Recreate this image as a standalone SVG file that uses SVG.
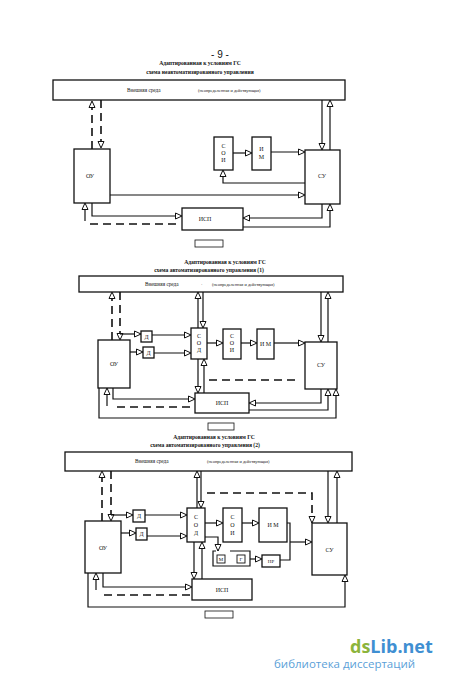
<svg xmlns="http://www.w3.org/2000/svg" width="450" height="684" viewBox="0 0 450 684">
<defs>
<marker id="ar" markerUnits="userSpaceOnUse" markerWidth="8" markerHeight="7" refX="7" refY="3" orient="auto" overflow="visible">
<path d="M0.5,0 L7,3 L0.5,6 Z" fill="#fff" stroke="#111" stroke-width="1" stroke-dasharray="none"/>
</marker>
</defs>
<style>
.b{fill:#fff;stroke:#111;stroke-width:1.3}
.c{fill:none;stroke:#111;stroke-width:1.2}
.d{fill:none;stroke:#111;stroke-width:1.6;stroke-dasharray:8 5}
.a{marker-end:url(#ar)}
text{font-family:"Liberation Serif","DejaVu Serif",serif;fill:#111}
.t{font-size:5.6px;font-weight:bold;text-anchor:middle}
.l{font-size:6px;text-anchor:middle}
.e{font-size:5.2px}
.s{font-size:4.4px}
</style>
<rect width="450" height="684" fill="#fff"/>

<!-- Diagram 1 -->
<g id="titles1">
<text x="220" y="58" style="font-size:10px;text-anchor:middle;font-family:'Liberation Sans',sans-serif">- 9 -</text>
<text class="t" x="200" y="65">Адаптированная к условиям ГС</text>
<text class="t" x="200" y="73.5">схема неавтоматизированного управления</text>
</g>
<g id="env1"><rect class="b" x="53" y="80" width="292" height="20"/>
<text class="e" x="127" y="92">Внешняя среда</text><text class="s" x="198" y="92">(неопределенная и действующая)</text></g>
<g id="ou1"><rect class="b" x="74" y="149" width="36" height="54"/><text class="l" x="90" y="178">ОУ</text></g>
<g id="soi1"><rect class="b" x="214" y="137" width="19" height="33"/>
<text class="l" x="223.5" y="148">С</text><text class="l" x="223.5" y="155">О</text><text class="l" x="223.5" y="162">И</text></g>
<g id="im1"><rect class="b" x="252" y="137" width="19" height="33"/>
<text class="l" x="261.5" y="151">И</text><text class="l" x="261.5" y="159">М</text></g>
<g id="su1"><rect class="b" x="305" y="150" width="35" height="54"/><text class="l" x="322" y="178">СУ</text></g>
<g id="isp1"><rect class="b" x="182" y="208" width="61" height="22"/><text class="l" x="205" y="221">ИСП</text></g>
<g id="tab1"><rect class="b" x="195" y="240" width="28" height="7" style="stroke-width:0.8"/></g>

<!-- Diagram 2 -->
<g id="titles2">
<text class="t" x="225" y="263.5">Адаптированная к условиям ГС</text>
<text class="t" x="209" y="271.5">схема автоматизированного управления (1)</text>
</g>
<g id="env2"><rect class="b" x="79" y="276" width="264" height="16"/>
<text class="e" x="145" y="286">Внешняя среда</text><text class="s" x="201" y="286">·</text><text class="s" x="212" y="286">(неопределенная и действующая)</text></g>
<g id="ou2"><rect class="b" x="98" y="340" width="32" height="48"/><text class="l" x="114" y="366">ОУ</text></g>
<g id="d21"><rect class="b" x="141" y="331" width="11" height="11"/><text class="l" x="146.5" y="338.5">Д</text></g>
<g id="d22"><rect class="b" x="143" y="347" width="11" height="11"/><text class="l" x="148.5" y="354.5">Д</text></g>
<g id="sod2"><rect class="b" x="191" y="328" width="16" height="31"/>
<text class="l" x="199" y="338">С</text><text class="l" x="199" y="345">О</text><text class="l" x="199" y="352">Д</text></g>
<g id="soi2"><rect class="b" x="223" y="329" width="18" height="30"/>
<text class="l" x="232" y="338">С</text><text class="l" x="232" y="345">О</text><text class="l" x="232" y="352">И</text></g>
<g id="im2"><rect class="b" x="257" y="329" width="17" height="30"/><text class="l" x="265.5" y="346">И М</text></g>
<g id="su2"><rect class="b" x="305" y="342" width="32" height="47"/><text class="l" x="321" y="367">СУ</text></g>
<g id="isp2"><rect class="b" x="195" y="393" width="54" height="20"/><text class="l" x="222" y="405">ИСП</text></g>
<g id="tab2"><rect class="b" x="208" y="423" width="26" height="7" style="stroke-width:0.8"/></g>

<!-- Diagram 3 -->
<g id="titles3">
<text class="t" x="214" y="438.5">Адаптированная к условиям ГС</text>
<text class="t" x="205" y="446.5">схема автоматизированного управления (2)</text>
</g>
<g id="env3"><rect class="b" x="65" y="452" width="287" height="19"/>
<text class="e" x="135" y="463">Внешняя среда</text><text class="s" x="207" y="463">(неопределенная и действующая)</text></g>
<g id="ou3"><rect class="b" x="85" y="521" width="36" height="52"/><text class="l" x="103" y="550">ОУ</text></g>
<g id="d31"><rect class="b" x="133" y="510" width="12" height="12"/><text class="l" x="139" y="518">Д</text></g>
<g id="d32"><rect class="b" x="136" y="528" width="11" height="12"/><text class="l" x="141.5" y="536">Д</text></g>
<g id="sod3"><rect class="b" x="187" y="508" width="18" height="34"/>
<text class="l" x="196" y="519">С</text><text class="l" x="196" y="527">О</text><text class="l" x="196" y="535">Д</text></g>
<g id="soi3"><rect class="b" x="223" y="508" width="19" height="34"/>
<text class="l" x="232.5" y="519">С</text><text class="l" x="232.5" y="527">О</text><text class="l" x="232.5" y="535">И</text></g>
<g id="im3"><rect class="b" x="259" y="508" width="28" height="34"/><text class="l" x="273" y="527">И М</text></g>
<g id="su3"><rect class="b" x="312" y="523" width="35" height="52"/><text class="l" x="329.5" y="552">СУ</text></g>
<g id="mg3"><path class="c" d="M216,551 H213 V566 H250 V551 H230"/></g>
<g id="m3"><rect class="b" x="217" y="555" width="8" height="8" style="stroke-width:0.9"/><text class="l" x="221" y="561.2" style="font-size:5px">М</text></g>
<g id="g3"><rect class="b" x="237" y="555" width="8" height="8" style="stroke-width:0.9"/><text class="l" x="241" y="561.2" style="font-size:5px">Г</text></g>
<g id="nr3"><rect class="b" x="262" y="555" width="18" height="12"/><text class="l" x="271" y="563" style="font-size:5px">НР</text></g>
<g id="isp3"><rect class="b" x="192" y="579" width="60" height="21"/><text class="l" x="222" y="592">ИСП</text></g>
<g id="tab3"><rect class="b" x="205" y="611" width="28" height="7" style="stroke-width:0.8"/></g>

<g id="connectors">
<!-- d1 -->
<path class="d a" d="M92,149 V101"/>
<path class="d a" d="M101,100 V148"/>
<path class="c a" d="M233,153 H252"/>
<path class="c a" d="M271,152 H305"/>
<path class="c a" d="M322,100 V150"/>
<path class="c a" d="M330,150 V100"/>
<path class="c a" d="M305,183 H223 V170"/>
<path class="c a" d="M110,195 H305"/>
<path class="c a" d="M92,203 V216 H182"/>
<path class="c a" d="M322,204 V218 H243"/>
<path class="c a" d="M243,227 H330 V204"/>
<path class="d" d="M176,224 H88"/>
<path class="c a" d="M85,221 V203"/>
<!-- d2 -->
<path class="d a" d="M112,340 V292"/>
<path class="d a" d="M120,292 V340"/>
<path class="c a" d="M120,334 H141"/>
<path class="c a" d="M130,352 H143"/>
<path class="c a" d="M152,335 H191"/>
<path class="c a" d="M154,353 H191"/>
<path class="c a" d="M198,328 V292"/>
<path class="c a" d="M203,292 V328"/>
<path class="c a" d="M207,343 H223"/>
<path class="c a" d="M241,343 H257"/>
<path class="c a" d="M274,343 H305"/>
<path class="c a" d="M321,292 V342"/>
<path class="c a" d="M328,342 V292"/>
<path class="d" d="M209,380 H297"/>
<path class="c a" d="M198,359 V393"/>
<path class="c a" d="M204,393 V359"/>
<path class="c a" d="M113,388 V399 H195"/>
<path class="d" d="M190,407 H112"/>
<path class="c a" d="M107,406 V388"/>
<path class="c a" d="M321,389 V403 H249"/>
<path class="c a" d="M249,410 H328 V389"/>
<path class="c a" d="M99,388 V418 H336 V389"/>
<!-- d3 -->
<path class="d a" d="M102,521 V471"/>
<path class="d a" d="M111,471 V521"/>
<path class="c a" d="M111,515 H133"/>
<path class="c a" d="M121,533 H136"/>
<path class="c a" d="M145,515 H187"/>
<path class="c a" d="M147,536 H187"/>
<path class="c a" d="M197,508 V471"/>
<path class="c a" d="M201,471 V508"/>
<path class="d a" d="M207,493 H312 V523"/>
<path class="c a" d="M328,471 V523"/>
<path class="c a" d="M337,523 V471"/>
<path class="c a" d="M205,523 H223"/>
<path class="c a" d="M242,523 H259"/>
<path class="c" d="M287,523 H290 V560 H280"/>
<path class="c a" d="M290,542 H312"/>
<path class="c a" d="M205,537 H218 V551"/>
<path class="c a" d="M250,559 H262"/>
<path class="c a" d="M194,542 V579"/>
<path class="c a" d="M202,579 V542"/>
<path class="c a" d="M103,573 V587 H192"/>
<path class="d" d="M190,595 H99"/>
<path class="c a" d="M96,590 V573"/>
<path class="c a" d="M88,573 V607 H345 V575"/>
</g>

<g id="watermark">
<text x="350" y="653" style="font-family:'Open Sans','DejaVu Sans',sans-serif;font-size:18px;font-weight:bold"><tspan fill="#8cb43c">ds</tspan><tspan fill="#3f8fd2">Lib.net</tspan></text>
<text x="274" y="668" style="font-family:'Open Sans','DejaVu Sans',sans-serif;font-size:11.5px;fill:#5b9fd8">библиотека диссертаций</text>
</g>
</svg>
